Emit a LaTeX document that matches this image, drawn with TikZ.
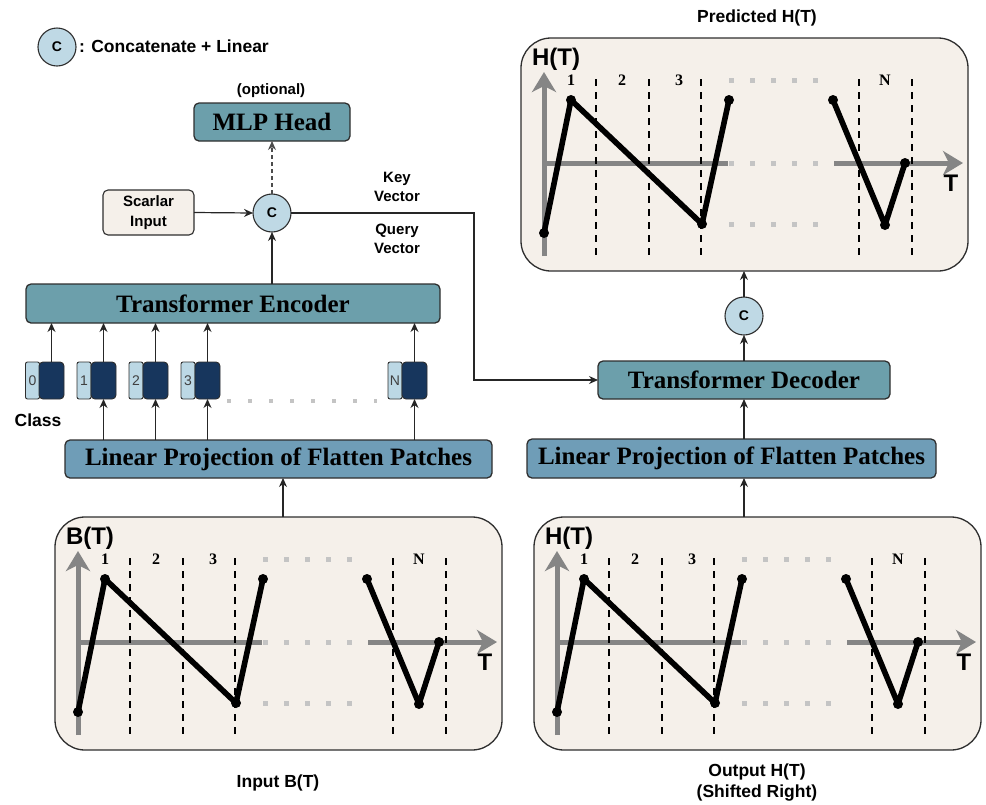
\documentclass[tikz,border=0pt]{standalone}
\usepackage{fontspec}
\setmainfont{Liberation Serif}
\setsansfont{Liberation Sans}
\usetikzlibrary{arrows.meta}

\definecolor{tealbox}{HTML}{6C9FAB}
\definecolor{projbox}{HTML}{6F9DB7}
\definecolor{cream}{HTML}{F5F0EA}
\definecolor{cfill}{HTML}{BFD9E5}
\definecolor{toklt}{HTML}{BCD8E5}
\definecolor{tokdk}{HTML}{17365D}
\definecolor{edge}{HTML}{2E2E2E}
\definecolor{axisgray}{HTML}{858585}
\definecolor{dotgray}{HTML}{C4C4C4}

% One signal panel: axes, patch separators, the zig-zag trace and its labels.
% #1,#2 = shift, #3 = vertical axis label, #4 = name prefix
\newcommand\panelplot[4]{%
  \begin{scope}[shift={(#1,#2)}]
    \draw[axisarrow] (78,735) -- (78,551);
    \draw[axisline] (78,642) -- (262,642);
    \draw[axisarrow] (368,642) -- (497,642);
    \foreach \yy in {559,642,703} \draw[dotrow] (263,\yy) -- (352,\yy);
    \foreach \xx in {130,183,235,393,446} \draw[patchsep] (\xx,558) -- (\xx,735);
    \node[patchnum] (#4-n1) at (105,559) {1};
    \node[patchnum] (#4-n2) at (156,559) {2};
    \node[patchnum] (#4-n3) at (213,559) {3};
    \node[patchnum] (#4-nN) at (419,559) {N};
    \draw[plotline] (78,712) -- (105,579) -- (236,703) -- (263,579);
    \draw[plotline] (367,579) -- (419,704) -- (439,642);
    \foreach \p in {(78,712),(105,579),(236,703),(263,579),(367,579),(419,704),(439,642)}
      \fill \p circle (5pt);
    \node[axlbl] (#4-ylab) at (90,538) {#3};
    \node[axlbl] (#4-xlab) at (485,662) {T};
  \end{scope}}

\begin{document}
\begin{tikzpicture}[x=1pt,y=-1pt,
  every node/.style={inner sep=0pt, outer sep=0pt},
  blk/.style={draw=edge, line width=1.3pt, rounded corners=5pt,
    font=\fontsize{25}{28}\selectfont\bfseries, text=black},
  encblk/.style={blk, fill=tealbox},
  projblk/.style={blk, fill=projbox},
  catnode/.style={circle, draw=edge, line width=1.1pt, fill=cfill, minimum size=38pt,
    font=\sffamily\bfseries\fontsize{14}{16}\selectfont},
  lbl/.style={font=\sffamily\bfseries\fontsize{15}{19.5}\selectfont, align=center},
  biglbl/.style={font=\sffamily\bfseries\fontsize{17.5}{21}\selectfont, align=center},
  conn/.style={draw=black!85, line width=1.2pt, -{Stealth[length=9pt,width=8pt]}},
  panel/.style={draw=edge, line width=1.3pt, fill=cream, rounded corners=30pt,
    minimum width=447pt, minimum height=233pt},
  toklight/.style={draw=edge, line width=0.9pt, fill=toklt, rounded corners=2pt,
    minimum width=14pt, minimum height=37pt,
    font=\sffamily\fontsize{14}{16}\selectfont, text=black!75},
  tokdark/.style={draw=edge, line width=0.9pt, fill=tokdk, rounded corners=4pt,
    minimum width=25pt, minimum height=37pt},
  axisline/.style={draw=axisgray, line width=5pt},
  axisarrow/.style={axisline, -{Stealth[length=20pt,width=24pt,inset=6pt]}},
  dotrow/.style={draw=dotgray, line width=5pt, dash pattern=on 5pt off 16pt},
  patchsep/.style={draw=black, line width=2.9pt, dash pattern=on 7pt off 6pt},
  plotline/.style={draw=black, line width=5.6pt, line join=round},
  patchnum/.style={font=\bfseries\fontsize{16}{18}\selectfont},
  axlbl/.style={font=\sffamily\bfseries\fontsize{24}{26}\selectfont},
]
\useasboundingbox (0,0) rectangle (986,804);

% legend
\node[catnode] (legc) at (57,47) {C};
\node[biglbl, anchor=west] (legtxt) at (79,46) {: Concatenate + Linear};

% encoder side
\node[lbl] (opt) at (271,91) {(optional)};
\node[encblk, minimum width=156pt, minimum height=38pt] (mlp) at (272,122) {MLP Head};
\node[catnode] (cT) at (272,213) {C};
\node[draw=edge, line width=1.1pt, fill=cream, rounded corners=5pt,
  minimum width=91pt, minimum height=45pt, lbl] (scalar) at (148.5,212.5) {Scarlar\\Input};
\node[lbl] (keytxt) at (397,187) {Key\\Vector};
\node[lbl] (querytxt) at (397,239) {Query\\Vector};
\node[encblk, minimum width=414pt, minimum height=39pt] (enc) at (233,303.5) {Transformer Encoder};

% patch tokens
\node[toklight] (l0) at (32.5,380.5) {0};
\node[tokdark] (d0) at (51.5,380.5) {};
\node[toklight] (l1) at (84,380.5) {1};
\node[tokdark] (d1) at (103.5,380.5) {};
\node[toklight] (l2) at (136,380.5) {2};
\node[tokdark] (d2) at (155.5,380.5) {};
\node[toklight] (l3) at (188,380.5) {3};
\node[tokdark] (d3) at (207.5,380.5) {};
\node[toklight] (lN) at (395,380.5) {N};
\node[tokdark] (dN) at (414.5,380.5) {};
\draw[draw=dotgray, line width=4pt, dash pattern=on 4pt off 17pt] (d3.south east) ++(7,2) coordinate (dotsA) -- (377,401) coordinate (dotsB);
\node[biglbl] (classtxt) at (38,420) {Class};

\node[projblk, minimum width=427pt, minimum height=38pt] (lpL) at (278.5,459) {Linear Projection of Flatten Patches};

% decoder side
\node[encblk, minimum width=292pt, minimum height=38pt] (dec) at (744,380) {Transformer Decoder};
\node[catnode] (cR) at (744,316) {C};
\node[projblk, minimum width=409pt, minimum height=39pt] (lpR) at (731.5,458.5) {Linear Projection of Flatten Patches};

% signal panels
\node[panel] (inpanel) at (278.5,633.5) {};
\node[panel] (outpanel) at (757.5,633.5) {};
\node[panel] (predpanel) at (744.5,154.5) {};
\panelplot{0}{0}{B(T)}{inp}
\panelplot{479}{0}{H(T)}{outp}
\panelplot{466}{-479}{H(T)}{predp}

\node[biglbl] (predtxt) at (757,18) {Predicted H(T)};
\node[biglbl] (intxt) at (278,783) {Input B(T)};
\node[biglbl] (outtxt) at (757,782.5) {Output H(T)\\(Shifted Right)};

% connectors
\draw[conn, draw=black!70, dash pattern=on 4pt off 3pt] (cT.north) -- (mlp.south);
\draw[conn] (scalar.east) -- (cT.west);
\draw[conn] (enc.north -| cT) -- (cT.south);
\coordinate (turn) at (474,213);
\draw[conn] (cT.east) -- (turn) -- (turn |- dec.west) -- (dec.west);
\foreach \t in {d0,d1,d2,d3,dN}
  \draw[conn] (\t.north) -- (\t.north |- enc.south);
\foreach \t in {d1,d2,d3,dN}
  \draw[conn] (\t.south |- lpL.north) -- (\t.south);
\draw[conn] (inpanel.north -| 283,0) -- (lpL.south -| 283,0);
\draw[conn] (outpanel.north -| dec) -- (lpR.south -| dec);
\draw[conn] (lpR.north -| dec) -- (dec.south);
\draw[conn] (dec.north) -- (cR.south);
\draw[conn] (cR.north) -- (predpanel.south -| cR);
\end{tikzpicture}
\end{document}
